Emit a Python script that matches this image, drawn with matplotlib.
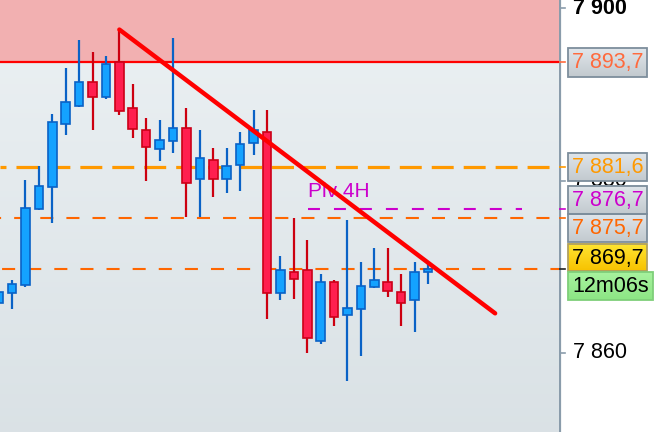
import numpy as np
import matplotlib
matplotlib.use('Agg')
import matplotlib.pyplot as plt
from matplotlib.patches import Rectangle

plt.rcParams['font.family'] = ['Liberation Sans', 'DejaVu Sans']
plt.rcParams['lines.scale_dashes'] = False

# ---------------- data ----------------
opens  = [7865.8, 7867.0, 7867.9, 7876.7, 7879.3, 7886.5, 7888.6, 7891.4, 7889.7, 7893.7,
          7888.4, 7885.9, 7883.7, 7884.6, 7886.1, 7880.2, 7882.4, 7880.2, 7881.8, 7884.4,
          7885.6, 7867.0, 7869.4, 7869.6, 7861.4, 7868.2, 7864.4, 7865.1, 7867.7, 7868.2,
          7867.1, 7866.1, 7869.4]
highs  = [7868.1, 7868.5, 7880.1, 7881.7, 7887.7, 7893.0, 7896.3, 7894.9, 7894.4, 7897.5,
          7891.2, 7887.3, 7887.0, 7896.5, 7888.4, 7885.9, 7883.8, 7883.8, 7885.6, 7888.2,
          7888.2, 7871.3, 7875.7, 7873.1, 7869.2, 7868.5, 7875.4, 7870.6, 7872.2, 7872.2,
          7869.2, 7870.6, 7870.6]
lows   = [7865.4, 7865.1, 7867.7, 7876.6, 7875.1, 7885.3, 7888.5, 7885.8, 7889.5, 7887.6,
          7884.9, 7880.0, 7882.3, 7883.2, 7875.8, 7875.8, 7878.1, 7878.6, 7878.8, 7883.0,
          7864.0, 7866.1, 7866.3, 7860.0, 7861.0, 7863.1, 7856.8, 7859.6, 7867.5, 7866.5,
          7863.1, 7862.4, 7868.0]
closes = [7867.1, 7868.0, 7876.8, 7879.4, 7886.8, 7889.1, 7891.4, 7889.7, 7893.5, 7888.1,
          7886.0, 7883.9, 7884.7, 7886.1, 7879.7, 7882.6, 7880.2, 7881.7, 7884.2, 7885.9,
          7867.0, 7869.6, 7868.6, 7861.7, 7868.2, 7864.2, 7865.2, 7867.8, 7868.5, 7867.2,
          7865.8, 7869.4, 7869.7]
first_index = -1

resistance = 7893.7
level_orange = 7881.6
pivot_4h = 7876.7
level_s1 = 7875.7
level_s2 = 7869.7
current_price = 7869.7

trend_x = [8, 36]
trend_y = [7897.5, 7864.6]

pivot_text = "Piv 4H"
pivot_start = 22.06
pivot_end = 38.0

label_vals = [7893.7, 7881.6, 7876.7, 7875.7, 7869.7]
label_colors = ['#ff6a3d', '#ff9900', '#cc00cc', '#ff6600', '#000000']
tick_vals = [7900, 7880, 7860]
timer_text = "12m06s"

# ---------------- figure ----------------
W, H = 654, 432
fig = plt.figure(figsize=(W / 100, H / 100), dpi=100)
fig.patch.set_facecolor('white')
axw = 559
ax = fig.add_axes([0, 0, axw / W, 1])
XMIN, XMAX = -0.894, 40.76
YMIN, YMAX = 7850.84, 7900.93
ax.set_xlim(XMIN, XMAX)
ax.set_ylim(YMIN, YMAX)
ax.axis('off')

# background gradient
top = np.array([0.925, 0.945, 0.955])
bot = np.array([0.855, 0.885, 0.9])
t = np.linspace(0, 1, 256)[:, None]
grad = (top[None, :] * (1 - t) + bot[None, :] * t)[:, None, :]
ax.imshow(grad, extent=[XMIN, XMAX, YMIN, YMAX], origin='upper', aspect='auto', zorder=0)

# resistance zone
ax.axhspan(resistance, YMAX, color='#f2b0b1', zorder=1, lw=0)
ax.axhline(resistance, color='#ff0000', lw=1.6, zorder=2)

# dashed levels
ax.axhline(level_orange, color='#ff9900', lw=2.3, zorder=2,
           linestyle=(11.5, (15.8, 7.2)))
ax.axhline(level_s1, color='#ff6600', lw=1.5, zorder=2,
           linestyle=(8.6, (9.4, 9.4)))
ax.axhline(level_s2, color='#ff6600', lw=1.5, zorder=2,
           linestyle=(17.3, (9.4, 9.4)))
ax.plot([pivot_start, pivot_end], [pivot_4h, pivot_4h], color='#cc00cc', lw=1.5,
        linestyle=(0, (8.6, 10.1)), zorder=2)
ax.text(pivot_start, 7878.7, pivot_text, color='#cc00cc', fontsize=15,
        ha='left', va='center', zorder=3)

# candles
for k, (o, h, l, c) in enumerate(zip(opens, highs, lows, closes)):
    x = first_index + k
    up = c >= o
    wick = '#0a62c6' if up else '#cc0010'
    face = '#14a2ff' if up else '#ff1f4f'
    edge = '#0a62c6' if up else '#cc0018'
    ax.plot([x, x], [l, h], color=wick, lw=1.6, zorder=4, solid_capstyle='butt')
    ax.add_patch(Rectangle((x - 0.32, min(o, c)), 0.64, max(abs(c - o), 0.15),
                           facecolor=face, edgecolor=edge, lw=1.2, zorder=5))

# trend line
ax.plot(trend_x, trend_y, color='#ff0000', lw=3.2, zorder=6, solid_capstyle='round')

# ---------------- right price scale ----------------
ax2 = fig.add_axes([axw / W, 0, (W - axw) / W, 1])
ax2.set_xlim(axw, W)
ax2.set_ylim(H, 0)
ax2.axis('off')


def ypix(v):
    return (YMAX - v) / (YMAX - YMIN) * H


ax2.plot([axw + 0.8, axw + 0.8], [0, H], color='#8a9cab', lw=1.6, zorder=2)

for v in tick_vals:
    y = ypix(v)
    ax2.plot([axw, axw + 6], [y, y], color='#8a9cab', lw=1.2, zorder=2)
    ax2.text(573, y, f"{v:,.0f}".replace(',', ' '), fontsize=15.5, color='black',
             ha='left', va='center', zorder=1,
             fontweight='bold' if v == 7900 else 'normal')


def grad_box(x0, x1, y0, y1, c_top, c_bot, edge, z):
    tt = np.linspace(0, 1, 64)[:, None]
    g = (np.array(c_top)[None, :] * (1 - tt) + np.array(c_bot)[None, :] * tt)[:, None, :]
    ax2.imshow(g, extent=[x0, x1, y1, y0], aspect='auto', zorder=z)
    ax2.add_patch(Rectangle((x0, y0), x1 - x0, y1 - y0, fill=False,
                            edgecolor=edge, lw=1.3, zorder=z + 0.1))


nudges = [0, 0, -8.8, 10.4, -11.6]
gray_top = (0.88, 0.90, 0.92)
gray_bot = (0.76, 0.79, 0.81)
for v, col, nd in zip(label_vals, label_colors, nudges):
    y = ypix(v)
    ax2.plot([axw, axw + 6], [y, y], color=col if col != '#000000' else '#222222',
             lw=1.2, zorder=3)
    yc = y + nd
    if v == current_price:
        grad_box(568, 647, yc - 13.7, yc + 13.7, (1.0, 0.9, 0.2), (0.97, 0.76, 0.0),
                 '#b0a060', 4)
    else:
        grad_box(568, 647, yc - 14.2, yc + 14.2, gray_top, gray_bot, '#7d8e9c', 4)
    ax2.text(607.5, yc + 0.5, f"{v:,.1f}".replace(',', ' ').replace('.', ','),
             fontsize=15.5, color=col, ha='center', va='center', zorder=6)

# timer box
grad_box(568, 653, 272.3, 300, (0.66, 0.95, 0.62), (0.55, 0.90, 0.52), '#7fcf7a', 4)
ax2.text(610.5, 286.5, timer_text, fontsize=15.5, color='black', ha='center',
         va='center', zorder=6)

fig.savefig('out.png', dpi=100)
